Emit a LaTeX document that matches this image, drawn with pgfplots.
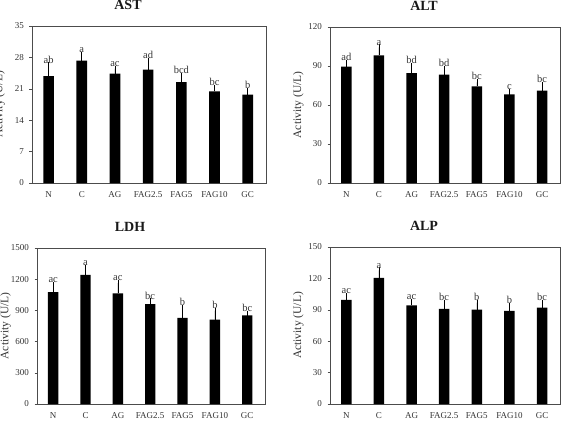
\documentclass[border=0pt]{standalone}
\usepackage{fontspec}
\setmainfont{Liberation Serif}
\usepackage{pgfplots}
\usepackage{pgfplotstable}
\pgfplotsset{compat=1.18}

% columns: group index, mean activity, SD (upper bar only), significance letters
\pgfplotstableread{
x y e lab
0 23.8 2.4 ab
1 27.3 1.2 a
2 24.4 1.1 ac
3 25.3 2.0 ad
4 22.5 1.4 bcd
5 20.4 0.8 bc
6 19.7 0.8 b
}\astdata
\pgfplotstableread{
x y e lab
0 89.6 2.6 ad
1 98.1 6.2 a
2 84.5 5.4 bd
3 83.4 4.2 bd
4 74.4 3.1 bc
5 68.2 1.8 c
6 71.1 4.1 bc
}\altdata
\pgfplotstableread{
x y e lab
0 1075 68 ac
1 1241 71 a
2 1063 99 ac
3 960 26 bc
4 827 95 b
5 811 86 b
6 852 16 bc
}\ldhdata
\pgfplotstableread{
x y e lab
0 99.5 3.5 ac
1 120.6 7.0 a
2 94.3 3.3 ac
3 90.8 6.1 bc
4 90.2 6.7 b
5 88.9 4.8 b
6 92.1 4.5 bc
}\alpdata

\pgfplotsset{
  enzyme/.style={
    scale only axis,
    xmin=-0.5, xmax=6.55, ymin=0,
    xtick={0,...,6},
    xticklabels={N,C,AG,FAG2.5,FAG5,FAG10,GC},
    x tick style={draw=none},
    y tick style={black!70, line width=0.5pt},
    tick align=outside, ytick pos=left, xtick pos=bottom,
    major tick length=2.5pt,
    axis line style={black!70, line width=0.6pt},
    tick label style={font=\fontsize{9}{10}\selectfont, text=black!80},
    xticklabel style={text height=6.5pt, text depth=0pt, yshift=-2pt},
    yticklabel style={xshift=-2pt},
    /pgf/number format/assume math mode=true,
    /pgf/number format/1000 sep={},
    ylabel={Activity (U/L)},
    every axis y label/.style={at={(axis description cs:-0.138,0.5)},
      rotate=90, anchor=center, font=\fontsize{11.5}{12}\selectfont, text=black!80},
    every axis title/.style={at={(axis description cs:0.5,1)}, anchor=center,
      yshift=21pt, xshift=-21pt, font=\bfseries\fontsize{14}{14}\selectfont, text=black!90},
    clip=false,
  },
  meanbar/.style={ybar, bar width=0.32, fill=black, draw=none,
    error bars/.cd, y dir=plus, y explicit,
    error bar style={line width=0.6pt, black},
    error mark options={line width=0.6pt, mark size=3pt, black}},
  letters/.style={draw=none, mark=none, nodes near coords,
    point meta=explicit symbolic,
    every node near coord/.append style={anchor=south, inner sep=2pt,
      font=\fontsize{10.5}{10.5}\selectfont, text=black!80}},
}

\begin{document}
\begin{tikzpicture}
\useasboundingbox (0pt,0pt) rectangle (561pt,424pt);

\begin{axis}[enzyme, at={(32pt,241pt)}, anchor=south west, width=234pt, height=157pt,
  title=AST, ymax=35, ytick={0,7,...,35}]
  \addplot[meanbar] table[x=x, y=y, y error=e] {\astdata};
  \addplot[letters] table[x=x, y expr=\thisrow{y}+\thisrow{e}, meta=lab] {\astdata};
\end{axis}

\begin{axis}[enzyme, at={(330pt,241pt)}, anchor=south west, width=230pt, height=156pt,
  title=ALT, ymax=120, ytick={0,30,...,120}]
  \addplot[meanbar] table[x=x, y=y, y error=e] {\altdata};
  \addplot[letters] table[x=x, y expr=\thisrow{y}+\thisrow{e}, meta=lab] {\altdata};
\end{axis}

\begin{axis}[enzyme, at={(37pt,20pt)}, anchor=south west, width=228pt, height=156pt,
  title=LDH, ymax=1500, ytick={0,300,...,1500}]
  \addplot[meanbar] table[x=x, y=y, y error=e] {\ldhdata};
  \addplot[letters] table[x=x, y expr=\thisrow{y}+\thisrow{e}, meta=lab] {\ldhdata};
\end{axis}

\begin{axis}[enzyme, at={(330pt,20pt)}, anchor=south west, width=230pt, height=157pt,
  title=ALP, ymax=150, ytick={0,30,...,150}]
  \addplot[meanbar] table[x=x, y=y, y error=e] {\alpdata};
  \addplot[letters] table[x=x, y expr=\thisrow{y}+\thisrow{e}, meta=lab] {\alpdata};
\end{axis}
\end{tikzpicture}
\end{document}
